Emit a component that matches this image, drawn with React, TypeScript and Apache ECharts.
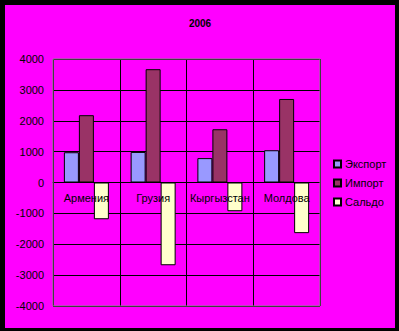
import React, { useEffect, useRef } from "react";
import * as echarts from "echarts";

const title = "2006";
const categories = ["Армения", "Грузия", "Кыргызстан", "Молдова"];
const exportValues = [980, 990, 790, 1045];
const importValues = [2180, 3670, 1725, 2705];
const saldoValues = [-1190, -2680, -930, -1640];
const seriesNames = ["Экспорт", "Импорт", "Сальдо"];
const seriesColors = ["#9999FF", "#993366", "#FFFFCC"];
const yMin = -4000;
const yMax = 4000;
const yStep = 1000;

const FONT = "'Liberation Sans', Arial, sans-serif";

export default function App() {
  const ref = useRef<HTMLDivElement>(null);
  useEffect(() => {
    document.body.style.margin = "0";
    if (!ref.current) return;
    const chart = echarts.init(ref.current, undefined, { renderer: "svg" });
    const gridLeft = 48;
    const gridTop = 54;
    const gridW = 267;
    const gridH = 247;
    const zeroOffset = -gridH * (0 - yMin) / (yMax - yMin);
    const values = [exportValues, importValues, saldoValues];
    chart.setOption({
      animation: false,
      backgroundColor: "#FF00FF",
      textStyle: { fontFamily: FONT },
      title: {
        text: title,
        left: "center",
        top: 8,
        textStyle: { fontSize: 10, fontWeight: "bold", color: "#000", fontFamily: FONT },
      },
      legend: {
        orient: "vertical",
        left: 323,
        top: 148,
        itemWidth: 7,
        itemHeight: 7,
        itemGap: 7,
        icon: "rect",
        textStyle: { fontSize: 11, color: "#000", fontFamily: FONT, lineHeight: 12, padding: [0, 0, 0, -1] },
        data: seriesNames,
      },
      grid: { left: gridLeft, top: gridTop, width: gridW, height: gridH, containLabel: false },
      xAxis: [
        {
          type: "category",
          data: categories,
          position: "bottom",
          z: 3,
          axisLine: { show: false },
          axisTick: { show: false },
          axisLabel: { show: false },
          splitLine: { show: true, interval: 0, lineStyle: { color: "#000", width: 1 } },
        },
        {
          type: "category",
          data: categories,
          position: "bottom",
          offset: zeroOffset,
          z: 10,
          axisLine: { show: true, onZero: false, lineStyle: { color: "#000", width: 1 } },
          axisTick: { show: false },
          axisLabel: { color: "#000", fontSize: 11, margin: 10, fontFamily: FONT, interval: 0 },
          splitLine: { show: false },
        },
      ],
      yAxis: {
        type: "value",
        min: yMin,
        max: yMax,
        interval: yStep,
        axisLine: { show: false },
        axisTick: { show: false },
        axisLabel: {
          color: "#000",
          fontSize: 11,
          margin: 9,
          fontFamily: FONT,
          formatter: (v: number) => String(v),
        },
        splitLine: { show: true, lineStyle: { color: "#000", width: 1 } },
      },
      graphic: [
        {
          type: "rect",
          z: 100,
          shape: { x: gridLeft, y: gridTop, width: gridW, height: gridH },
          style: { fill: "none", stroke: "#808080", lineWidth: 1 },
        },
      ],
      series: seriesNames.map((name, i) => ({
        name,
        type: "bar",
        data: values[i],
        xAxisIndex: 0,
        barWidth: 15,
        barGap: "0%",
        itemStyle: { color: seriesColors[i], borderColor: "#000", borderWidth: 1 },
      })),
    });
    return () => chart.dispose();
  }, []);
  return (
    <div style={{ width: 399, height: 331, background: "#000", position: "relative" }}>
      <div
        ref={ref}
        style={{ position: "absolute", left: 5, top: 5, width: 390, height: 323 }}
      />
    </div>
  );
}
